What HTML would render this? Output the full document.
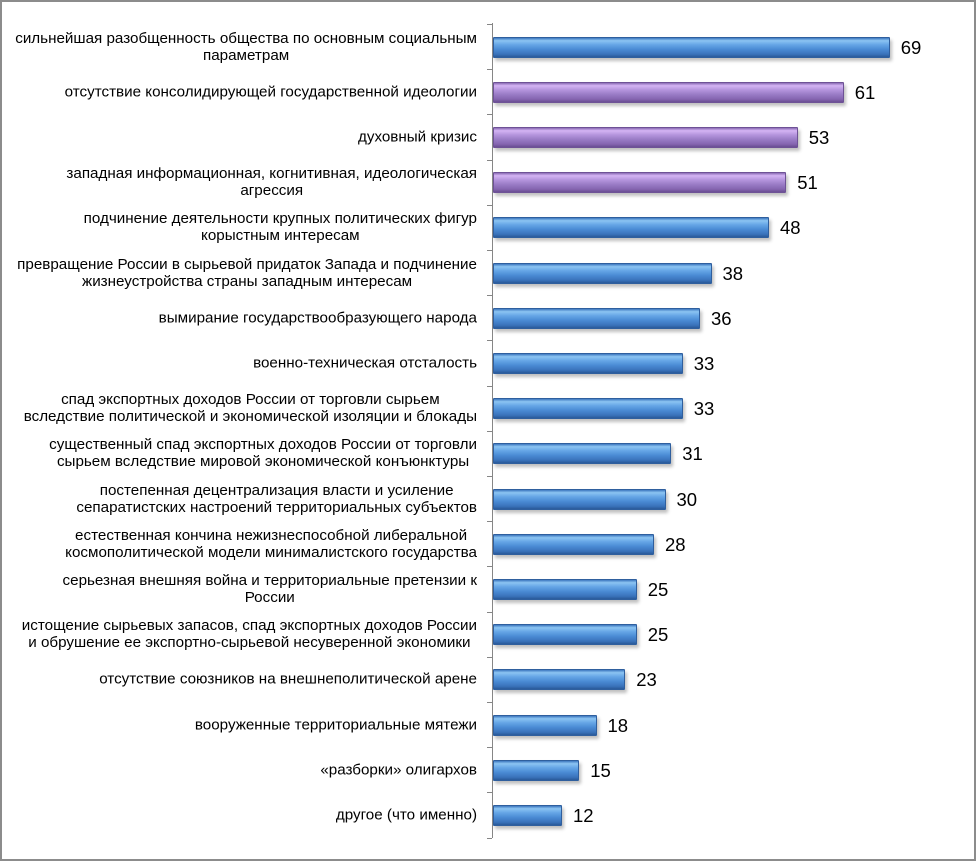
<!DOCTYPE html>
<html><head><meta charset="utf-8"><style>
body{margin:0;width:976px;height:861px;background:#fff;position:relative;overflow:hidden;font-family:"Liberation Sans",sans-serif}
.frame{position:absolute;left:0;top:0;width:972px;height:857px;border:2px solid #8c8c8c}
.lab{position:absolute;right:499px;text-align:center;white-space:nowrap;font-size:15.2px;line-height:17px;color:#000;transform:translateY(-50%)}
.val{position:absolute;font-size:18.5px;color:#000;transform:translateY(-50%)}
.bar{position:absolute;left:493px;height:19px;box-shadow:2px 3px 3px rgba(0,0,0,0.25);border-radius:1px}
.b{background:linear-gradient(#3d78c0 0%,#8cc4f2 14%,#66a6e6 35%,#4a8bd4 60%,#3a73bb 85%,#2a5a99 100%);border:1px solid #2f5f9e}
.p{background:linear-gradient(#8a6bb4 0%,#d4b4f4 14%,#b696de 35%,#9a7cc6 60%,#8565b0 85%,#6a4e92 100%);border:1px solid #6e5296}
.axis{position:absolute;left:492px;top:23px;width:1px;height:815px;background:#868686}
.tick{position:absolute;left:487px;width:5px;height:1px;background:#868686}
</style></head><body>
<div class="frame"></div>
<div class="axis"></div>
<div id="c"></div>
<script>
var d=[
["сильнейшая разобщенность общества по основным социальным<br>параметрам",69,"b"],
["отсутствие консолидирующей государственной идеологии",61,"p"],
["духовный кризис",53,"p"],
["западная информационная, когнитивная, идеологическая<br>агрессия",51,"p"],
["подчинение деятельности крупных политических фигур<br>корыстным интересам",48,"b"],
["превращение России в сырьевой придаток Запада и подчинение<br>жизнеустройства страны западным интересам",38,"b"],
["вымирание государствообразующего народа",36,"b"],
["военно-техническая отсталость",33,"b"],
["спад экспортных доходов России от торговли сырьем<br>вследствие политической и экономической изоляции и блокады",33,"b"],
["существенный спад экспортных доходов России от торговли<br>сырьем вследствие мировой экономической конъюнктуры",31,"b"],
["постепенная децентрализация власти и усиление<br>сепаратистских настроений территориальных субъектов",30,"b"],
["естественная кончина нежизнеспособной либеральной<br>космополитической модели минималистского государства",28,"b"],
["серьезная внешняя война и территориальные претензии к<br>России",25,"b"],
["истощение сырьевых запасов, спад экспортных доходов России<br>и обрушение ее  экспортно-сырьевой несуверенной экономики",25,"b"],
["отсутствие союзников на внешнеполитической арене",23,"b"],
["вооруженные территориальные мятежи",18,"b"],
["«разборки» олигархов",15,"b"],
["другое (что именно)",12,"b"]];
var h="";
for(var i=0;i<d.length;i++){
 var cy=46.5+45.2*i, w=d[i][1]*5.75;
 h+='<div class="lab" style="top:'+cy+'px">'+d[i][0]+'</div>';
 h+='<div class="bar '+d[i][2]+'" style="top:'+(cy-10)+'px;width:'+(w-2)+'px"></div>';
 h+='<div class="val" style="top:'+(cy+1)+'px;left:'+(493+w+11)+'px">'+d[i][1]+'</div>';
 h+='<div class="tick" style="top:'+Math.round(cy-22.6)+'px"></div>';
}
h+='<div class="tick" style="top:838px"></div>';
document.getElementById("c").innerHTML=h;
</script>
</body></html>
